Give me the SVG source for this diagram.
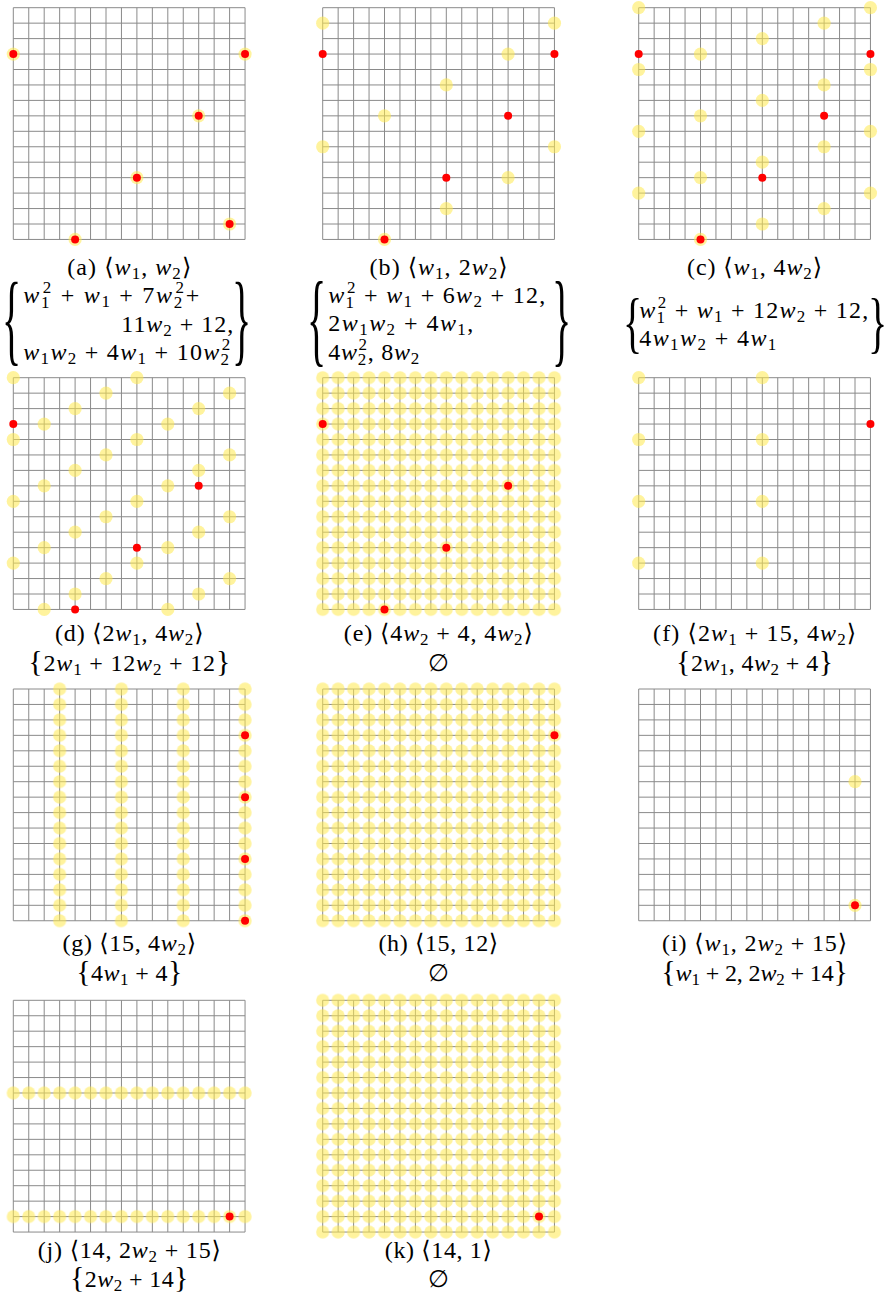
<svg xmlns="http://www.w3.org/2000/svg" width="891" height="1309" viewBox="0 0 891 1309">
<style>
.g{fill:none;stroke:#8a8a8a;stroke-width:1}
.y{fill:#ffe94d;fill-opacity:.55}
.r{fill:#f00}
.t{font-family:"Liberation Serif","DejaVu Serif",serif;font-size:24px;fill:#000}
.i{font-style:italic}
.s{font-size:17px}
.b{font-size:30px}
.br{font-family:"Liberation Serif","DejaVu Serif",serif;font-size:40px;fill:#000}
</style>
<defs>
<path id="grid" class="g" d="M0 0V231.75M15.45 0V231.75M30.9 0V231.75M46.35 0V231.75M61.8 0V231.75M77.25 0V231.75M92.7 0V231.75M108.15 0V231.75M123.6 0V231.75M139.05 0V231.75M154.5 0V231.75M169.95 0V231.75M185.4 0V231.75M200.85 0V231.75M216.3 0V231.75M231.75 0V231.75M0 0H231.75M0 15.45H231.75M0 30.9H231.75M0 46.35H231.75M0 61.8H231.75M0 77.25H231.75M0 92.7H231.75M0 108.15H231.75M0 123.6H231.75M0 139.05H231.75M0 154.5H231.75M0 169.95H231.75M0 185.4H231.75M0 200.85H231.75M0 216.3H231.75M0 231.75H231.75"/>
<pattern id="pf" patternUnits="userSpaceOnUse" x="-7.725" y="-7.725" width="15.45" height="15.45"><circle cx="7.725" cy="7.725" r="6.6" class="y"/></pattern>
</defs>

<g id="node-a">
<g transform="translate(13.3,7.7)">
<use href="#grid"/>
<g class="y"><circle cx="0" cy="46.35" r="6.6"/><circle cx="231.75" cy="46.35" r="6.6"/><circle cx="185.4" cy="108.15" r="6.6"/><circle cx="123.6" cy="169.95" r="6.6"/><circle cx="216.3" cy="216.3" r="6.6"/><circle cx="61.8" cy="231.75" r="6.6"/></g>
<g class="r"><circle cx="0" cy="46.35" r="4"/><circle cx="231.75" cy="46.35" r="4"/><circle cx="185.4" cy="108.15" r="4"/><circle cx="123.6" cy="169.95" r="4"/><circle cx="216.3" cy="216.3" r="4"/><circle cx="61.8" cy="231.75" r="4"/></g>
</g>
<text class="t" x="67.3" y="275" textLength="124" lengthAdjust="spacing">(a) ⟨<tspan class="i">w</tspan><tspan class="s" dy="4">1</tspan><tspan dy="-4">, </tspan><tspan class="i">w</tspan><tspan class="s" dy="4">2</tspan><tspan dy="-4">⟩</tspan></text>
<text class="br" transform="translate(2,351.7) scale(1,2.52)">{</text>
<text class="t" x="23.3" y="303" textLength="176" lengthAdjust="spacing"><tspan class="i">w</tspan><tspan class="s" dy="5">1</tspan><tspan class="s" dx="-8.5" dy="-15">2</tspan><tspan dy="10"> + </tspan><tspan class="i">w</tspan><tspan class="s" dy="4">1</tspan><tspan dy="-4"> + 7</tspan><tspan class="i">w</tspan><tspan class="s" dy="5">2</tspan><tspan class="s" dx="-8.5" dy="-15">2</tspan><tspan dy="10">+</tspan></text>
<text class="t" x="121.3" y="332" textLength="112" lengthAdjust="spacing">11<tspan class="i">w</tspan><tspan class="s" dy="4">2</tspan><tspan dy="-4"> + 12,</tspan></text>
<text class="t" x="23.3" y="360" textLength="207" lengthAdjust="spacing"><tspan class="i">w</tspan><tspan class="s" dy="4">1</tspan><tspan class="i" dy="-4">w</tspan><tspan class="s" dy="4">2</tspan><tspan dy="-4"> + 4</tspan><tspan class="i">w</tspan><tspan class="s" dy="4">1</tspan><tspan dy="-4"> + 10</tspan><tspan class="i">w</tspan><tspan class="s" dy="5">2</tspan><tspan class="s" dx="-8.5" dy="-15">2</tspan></text>
<text class="br" transform="translate(232,351.7) scale(1,2.52)">}</text>
</g>

<g id="node-b">
<g transform="translate(322.7,7.7)">
<use href="#grid"/>
<g class="y"><circle cx="0" cy="15.45" r="6.6"/><circle cx="231.75" cy="15.45" r="6.6"/><circle cx="185.4" cy="46.35" r="6.6"/><circle cx="123.6" cy="77.25" r="6.6"/><circle cx="61.8" cy="108.15" r="6.6"/><circle cx="0" cy="139.05" r="6.6"/><circle cx="231.75" cy="139.05" r="6.6"/><circle cx="185.4" cy="169.95" r="6.6"/><circle cx="123.6" cy="200.85" r="6.6"/><circle cx="61.8" cy="231.75" r="6.6"/></g>
<g class="r"><circle cx="0" cy="46.35" r="4"/><circle cx="231.75" cy="46.35" r="4"/><circle cx="185.4" cy="108.15" r="4"/><circle cx="123.6" cy="169.95" r="4"/><circle cx="61.8" cy="231.75" r="4"/></g>
</g>
<text class="t" x="369.6" y="275" textLength="138" lengthAdjust="spacing">(b) ⟨<tspan class="i">w</tspan><tspan class="s" dy="4">1</tspan><tspan dy="-4">, 2</tspan><tspan class="i">w</tspan><tspan class="s" dy="4">2</tspan><tspan dy="-4">⟩</tspan></text>
<text class="br" transform="translate(307,353.1) scale(1,2.61)">{</text>
<text class="t" x="328.3" y="303" textLength="217" lengthAdjust="spacing"><tspan class="i">w</tspan><tspan class="s" dy="5">1</tspan><tspan class="s" dx="-8.5" dy="-15">2</tspan><tspan dy="10"> + </tspan><tspan class="i">w</tspan><tspan class="s" dy="4">1</tspan><tspan dy="-4"> + 6</tspan><tspan class="i">w</tspan><tspan class="s" dy="4">2</tspan><tspan dy="-4"> + 12,</tspan></text>
<text class="t" x="328.3" y="331" textLength="145" lengthAdjust="spacing">2<tspan class="i">w</tspan><tspan class="s" dy="4">1</tspan><tspan class="i" dy="-4">w</tspan><tspan class="s" dy="4">2</tspan><tspan dy="-4"> + 4</tspan><tspan class="i">w</tspan><tspan class="s" dy="4">1</tspan><tspan dy="-4">,</tspan></text>
<text class="t" x="328.3" y="360" textLength="91" lengthAdjust="spacing">4<tspan class="i">w</tspan><tspan class="s" dy="5">2</tspan><tspan class="s" dx="-8.5" dy="-15">2</tspan><tspan dy="10">, 8</tspan><tspan class="i">w</tspan><tspan class="s" dy="4">2</tspan></text>
<text class="br" transform="translate(552,353.1) scale(1,2.61)">}</text>
</g>

<g id="node-c">
<g transform="translate(638.7,7.7)">
<use href="#grid"/>
<g class="y"><circle cx="0" cy="0" r="6.6"/><circle cx="231.75" cy="0" r="6.6"/><circle cx="185.4" cy="15.45" r="6.6"/><circle cx="123.6" cy="30.9" r="6.6"/><circle cx="61.8" cy="46.35" r="6.6"/><circle cx="0" cy="61.8" r="6.6"/><circle cx="231.75" cy="61.8" r="6.6"/><circle cx="185.4" cy="77.25" r="6.6"/><circle cx="123.6" cy="92.7" r="6.6"/><circle cx="61.8" cy="108.15" r="6.6"/><circle cx="0" cy="123.6" r="6.6"/><circle cx="231.75" cy="123.6" r="6.6"/><circle cx="185.4" cy="139.05" r="6.6"/><circle cx="123.6" cy="154.5" r="6.6"/><circle cx="61.8" cy="169.95" r="6.6"/><circle cx="0" cy="185.4" r="6.6"/><circle cx="231.75" cy="185.4" r="6.6"/><circle cx="185.4" cy="200.85" r="6.6"/><circle cx="123.6" cy="216.3" r="6.6"/><circle cx="61.8" cy="231.75" r="6.6"/></g>
<g class="r"><circle cx="0" cy="46.35" r="4"/><circle cx="231.75" cy="46.35" r="4"/><circle cx="185.4" cy="108.15" r="4"/><circle cx="123.6" cy="169.95" r="4"/><circle cx="61.8" cy="231.75" r="4"/></g>
</g>
<text class="t" x="687.1" y="275" textLength="135" lengthAdjust="spacing">(c) ⟨<tspan class="i">w</tspan><tspan class="s" dy="4">1</tspan><tspan dy="-4">, 4</tspan><tspan class="i">w</tspan><tspan class="s" dy="4">2</tspan><tspan dy="-4">⟩</tspan></text>
<text class="br" transform="translate(623,344.6) scale(1,1.71)">{</text>
<text class="t" x="639.3" y="318" textLength="229" lengthAdjust="spacing"><tspan class="i">w</tspan><tspan class="s" dy="5">1</tspan><tspan class="s" dx="-8.5" dy="-15">2</tspan><tspan dy="10"> + </tspan><tspan class="i">w</tspan><tspan class="s" dy="4">1</tspan><tspan dy="-4"> + 12</tspan><tspan class="i">w</tspan><tspan class="s" dy="4">2</tspan><tspan dy="-4"> + 12,</tspan></text>
<text class="t" x="639.3" y="346" textLength="137" lengthAdjust="spacing">4<tspan class="i">w</tspan><tspan class="s" dy="4">1</tspan><tspan class="i" dy="-4">w</tspan><tspan class="s" dy="4">2</tspan><tspan dy="-4"> + 4</tspan><tspan class="i">w</tspan><tspan class="s" dy="4">1</tspan></text>
<text class="br" transform="translate(868,344.6) scale(1,1.71)">}</text>
</g>

<g id="node-d">
<g transform="translate(13.3,377.7)">
<use href="#grid"/>
<g class="y"><circle cx="0" cy="0" r="6.6"/><circle cx="123.6" cy="0" r="6.6"/><circle cx="92.7" cy="15.45" r="6.6"/><circle cx="216.3" cy="15.45" r="6.6"/><circle cx="61.8" cy="30.9" r="6.6"/><circle cx="185.4" cy="30.9" r="6.6"/><circle cx="30.9" cy="46.35" r="6.6"/><circle cx="154.5" cy="46.35" r="6.6"/><circle cx="0" cy="61.8" r="6.6"/><circle cx="123.6" cy="61.8" r="6.6"/><circle cx="92.7" cy="77.25" r="6.6"/><circle cx="216.3" cy="77.25" r="6.6"/><circle cx="61.8" cy="92.7" r="6.6"/><circle cx="185.4" cy="92.7" r="6.6"/><circle cx="30.9" cy="108.15" r="6.6"/><circle cx="154.5" cy="108.15" r="6.6"/><circle cx="0" cy="123.6" r="6.6"/><circle cx="123.6" cy="123.6" r="6.6"/><circle cx="92.7" cy="139.05" r="6.6"/><circle cx="216.3" cy="139.05" r="6.6"/><circle cx="61.8" cy="154.5" r="6.6"/><circle cx="185.4" cy="154.5" r="6.6"/><circle cx="30.9" cy="169.95" r="6.6"/><circle cx="154.5" cy="169.95" r="6.6"/><circle cx="0" cy="185.4" r="6.6"/><circle cx="123.6" cy="185.4" r="6.6"/><circle cx="92.7" cy="200.85" r="6.6"/><circle cx="216.3" cy="200.85" r="6.6"/><circle cx="61.8" cy="216.3" r="6.6"/><circle cx="185.4" cy="216.3" r="6.6"/><circle cx="30.9" cy="231.75" r="6.6"/><circle cx="154.5" cy="231.75" r="6.6"/></g>
<g class="r"><circle cx="0" cy="46.35" r="4"/><circle cx="185.4" cy="108.15" r="4"/><circle cx="123.6" cy="169.95" r="4"/><circle cx="61.8" cy="231.75" r="4"/></g>
</g>
<text class="t" x="55" y="641" textLength="148.5" lengthAdjust="spacing">(d) ⟨2<tspan class="i">w</tspan><tspan class="s" dy="4">1</tspan><tspan dy="-4">, 4</tspan><tspan class="i">w</tspan><tspan class="s" dy="4">2</tspan><tspan dy="-4">⟩</tspan></text>
<text class="t" x="28.3" y="671" textLength="202" lengthAdjust="spacing"><tspan class="b">{</tspan>2<tspan class="i">w</tspan><tspan class="s" dy="4">1</tspan><tspan dy="-4"> + 12</tspan><tspan class="i">w</tspan><tspan class="s" dy="4">2</tspan><tspan dy="-4"> + 12</tspan><tspan class="b">}</tspan></text>
</g>

<g id="node-e">
<g transform="translate(322.7,377.7)">
<use href="#grid"/>
<rect x="-7.725" y="-7.725" width="247.2" height="247.2" fill="url(#pf)"/>
<g class="r"><circle cx="0" cy="46.35" r="4"/><circle cx="185.4" cy="108.15" r="4"/><circle cx="123.6" cy="169.95" r="4"/><circle cx="61.8" cy="231.75" r="4"/></g>
</g>
<text class="t" x="343.8" y="641" textLength="189" lengthAdjust="spacing">(e) ⟨4<tspan class="i">w</tspan><tspan class="s" dy="4">2</tspan><tspan dy="-4"> + 4, 4</tspan><tspan class="i">w</tspan><tspan class="s" dy="4">2</tspan><tspan dy="-4">⟩</tspan></text>
<text class="t" x="438.3" y="671" text-anchor="middle">∅</text>
</g>

<g id="node-f">
<g transform="translate(638.7,377.7)">
<use href="#grid"/>
<g class="y"><circle cx="0" cy="0" r="6.6"/><circle cx="123.6" cy="0" r="6.6"/><circle cx="0" cy="61.8" r="6.6"/><circle cx="123.6" cy="61.8" r="6.6"/><circle cx="0" cy="123.6" r="6.6"/><circle cx="123.6" cy="123.6" r="6.6"/><circle cx="0" cy="185.4" r="6.6"/><circle cx="123.6" cy="185.4" r="6.6"/></g>
<circle class="r" cx="231.75" cy="46.35" r="4"/>
</g>
<text class="t" x="653.1" y="641" textLength="203" lengthAdjust="spacing">(f) ⟨2<tspan class="i">w</tspan><tspan class="s" dy="4">1</tspan><tspan dy="-4"> + 15, 4</tspan><tspan class="i">w</tspan><tspan class="s" dy="4">2</tspan><tspan dy="-4">⟩</tspan></text>
<text class="t" x="676.1" y="671" textLength="157" lengthAdjust="spacing"><tspan class="b">{</tspan>2<tspan class="i">w</tspan><tspan class="s" dy="4">1</tspan><tspan dy="-4">, 4</tspan><tspan class="i">w</tspan><tspan class="s" dy="4">2</tspan><tspan dy="-4"> + 4</tspan><tspan class="b">}</tspan></text>
</g>

<g id="node-g">
<g transform="translate(13.3,689)">
<use href="#grid"/>
<rect x="38.625" y="-7.725" width="15.45" height="247.2" fill="url(#pf)"/>
<rect x="100.425" y="-7.725" width="15.45" height="247.2" fill="url(#pf)"/>
<rect x="162.225" y="-7.725" width="15.45" height="247.2" fill="url(#pf)"/>
<rect x="224.025" y="-7.725" width="15.45" height="247.2" fill="url(#pf)"/>
<g class="r"><circle cx="231.75" cy="46.35" r="4"/><circle cx="231.75" cy="108.15" r="4"/><circle cx="231.75" cy="169.95" r="4"/><circle cx="231.75" cy="231.75" r="4"/></g>
</g>
<text class="t" x="62.55" y="951" textLength="133.5" lengthAdjust="spacing">(g) ⟨15, 4<tspan class="i">w</tspan><tspan class="s" dy="4">2</tspan><tspan dy="-4">⟩</tspan></text>
<text class="t" x="76.3" y="981" textLength="106" lengthAdjust="spacing"><tspan class="b">{</tspan>4<tspan class="i">w</tspan><tspan class="s" dy="4">1</tspan><tspan dy="-4"> + 4</tspan><tspan class="b">}</tspan></text>
</g>

<g id="node-h">
<g transform="translate(322.7,689)">
<use href="#grid"/>
<rect x="-7.725" y="-7.725" width="247.2" height="247.2" fill="url(#pf)"/>
<circle class="r" cx="231.75" cy="46.35" r="4"/>
</g>
<text class="t" x="378.4" y="951" textLength="119.8" lengthAdjust="spacing">(h) ⟨15, 12⟩</text>
<text class="t" x="438.3" y="981" text-anchor="middle">∅</text>
</g>

<g id="node-i">
<g transform="translate(638.7,689)">
<use href="#grid"/>
<g class="y"><circle cx="216.3" cy="92.7" r="6.6"/><circle cx="216.3" cy="216.3" r="6.6"/></g>
<circle class="r" cx="216.3" cy="216.3" r="4"/>
</g>
<text class="t" x="662.1" y="951" textLength="185" lengthAdjust="spacing">(i) ⟨<tspan class="i">w</tspan><tspan class="s" dy="4">1</tspan><tspan dy="-4">, 2</tspan><tspan class="i">w</tspan><tspan class="s" dy="4">2</tspan><tspan dy="-4"> + 15⟩</tspan></text>
<text class="t" x="661.3" y="981" textLength="186.6" lengthAdjust="spacing"><tspan class="b">{</tspan><tspan class="i">w</tspan><tspan class="s" dy="4">1</tspan><tspan dy="-4"> + 2, 2</tspan><tspan class="i">w</tspan><tspan class="s" dy="4">2</tspan><tspan dy="-4"> + 14</tspan><tspan class="b">}</tspan></text>
</g>

<g id="node-j">
<g transform="translate(13.3,1000.3)">
<use href="#grid"/>
<rect x="-7.725" y="84.975" width="247.2" height="15.45" fill="url(#pf)"/>
<rect x="-7.725" y="208.575" width="247.2" height="15.45" fill="url(#pf)"/>
<circle class="r" cx="216.3" cy="216.3" r="4"/>
</g>
<text class="t" x="37.8" y="1258" textLength="183" lengthAdjust="spacing">(j) ⟨14, 2<tspan class="i">w</tspan><tspan class="s" dy="4">2</tspan><tspan dy="-4"> + 15⟩</tspan></text>
<text class="t" x="70" y="1287" textLength="118.5" lengthAdjust="spacing"><tspan class="b">{</tspan>2<tspan class="i">w</tspan><tspan class="s" dy="4">2</tspan><tspan dy="-4"> + 14</tspan><tspan class="b">}</tspan></text>
</g>

<g id="node-k">
<g transform="translate(322.7,1000.3)">
<use href="#grid"/>
<rect x="-7.725" y="-7.725" width="247.2" height="247.2" fill="url(#pf)"/>
<circle class="r" cx="216.3" cy="216.3" r="4"/>
</g>
<text class="t" x="384.8" y="1258" textLength="107" lengthAdjust="spacing">(k) ⟨14, 1⟩</text>
<text class="t" x="438.3" y="1287" text-anchor="middle">∅</text>
</g>

<g id="connectors"></g>
</svg>
